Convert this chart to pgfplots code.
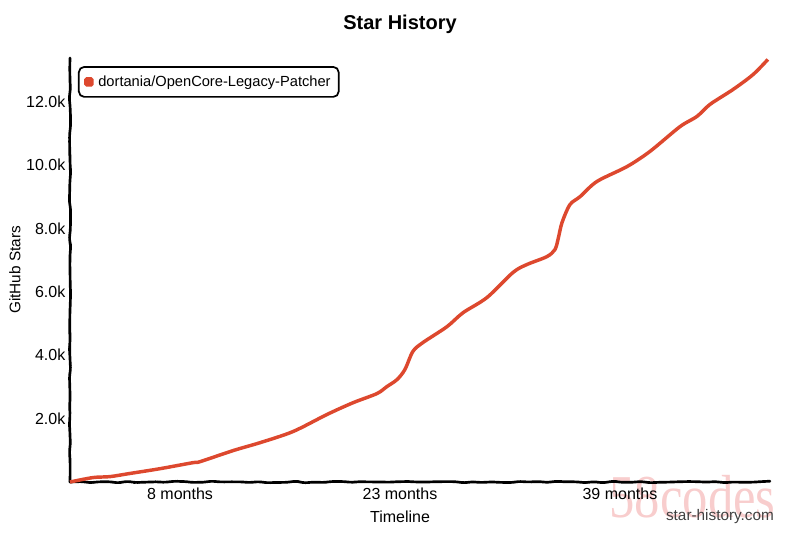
\documentclass[border=0pt]{standalone}
\usepackage{pgfplots}
\pgfplotsset{compat=1.18}
\usepackage{fontspec}
\setmainfont{Liberation Sans}
\newfontfamily\wmfont{Liberation Serif}
\usetikzlibrary{decorations.pathmorphing}
\definecolor{starred}{RGB}{221,72,46}
\definecolor{wmpink}{RGB}{248,205,205}
\begin{document}
\begin{tikzpicture}
\useasboundingbox (-52.5pt,-38.25pt) rectangle (547.5pt,361.5pt);
\node[font=\wmfont\fontsize{38}{38}\selectfont, text=wmpink, yscale=1.2, inner sep=0pt] at (467pt,-11pt) {58codes};
\begin{axis}[
  scale only axis,
  width=525pt, height=318pt,
  xmin=0, xmax=49.3,
  ymin=0, ymax=13375,
  axis lines=left,
  axis line style={-, line width=2pt, line cap=round, decorate,
    decoration={random steps, segment length=7pt, amplitude=0.45pt}, rounded corners=2pt},
  major tick length=0pt,
  scaled y ticks=false,
  xtick={7.75,23.24,38.73},
  xticklabels={8 months,23 months,39 months},
  ytick={2000,4000,6000,8000,10000,12000},
  yticklabels={2.0k,4.0k,6.0k,8.0k,10.0k,12.0k},
  ticklabel style={font=\fontsize{12}{14}\selectfont},
  xticklabel style={yshift=-1pt},
  legend style={at={(axis description cs:0.0114,0.981)}, anchor=north west,
    draw=black, line width=1.3pt, rounded corners=4pt,
    font=\fontsize{11}{13}\selectfont, inner xsep=4pt, inner ysep=4.5pt},
  legend cell align=left,
  legend image code/.code={\fill[starred, rounded corners=0.7pt] (0pt,-2.2pt) rectangle (4.5pt,2.2pt);},
  clip=false,
]
\addplot[color=starred, line width=2.6pt, smooth, tension=0.5] coordinates {
(0,0) (1.62,140) (2.82,170) (4.23,270) (6.34,420) (8.66,610) (9.15,640)
(11.48,990) (13.38,1240) (15.70,1590) (18.10,2130) (19.93,2500) (21.62,2790)
(22.32,3010) (23.03,3230) (23.59,3550) (24.15,4120) (24.86,4400) (26.55,4900)
(27.68,5340) (29.37,5820) (31.20,6610) (32.18,6860) (33.59,7110) (34.15,7330)
(34.37,7650) (34.65,8180) (35.21,8750) (35.92,9000) (37.11,9480) (39.23,9950)
(40.85,10430) (42.96,11210) (44.15,11530) (45.07,11910) (46.69,12380)
(48.10,12850) (49.15,13330)
};
\addlegendentry{\hspace{1.5pt}dortania/OpenCore-Legacy-Patcher}
\end{axis}
\node[font=\bfseries\fontsize{15}{17}\selectfont] at (247.5pt,343.5pt) {Star History};
\node[font=\fontsize{11.5}{13}\selectfont, rotate=90] at (-41.25pt,159pt) {GitHub Stars};
\node[font=\fontsize{12}{14}\selectfont] at (247.5pt,-26.25pt) {Timeline};
\node[font=\fontsize{11.5}{13}\selectfont, text=black!75] at (487.5pt,-26.25pt) {star-history.com};
\end{tikzpicture}
\end{document}
